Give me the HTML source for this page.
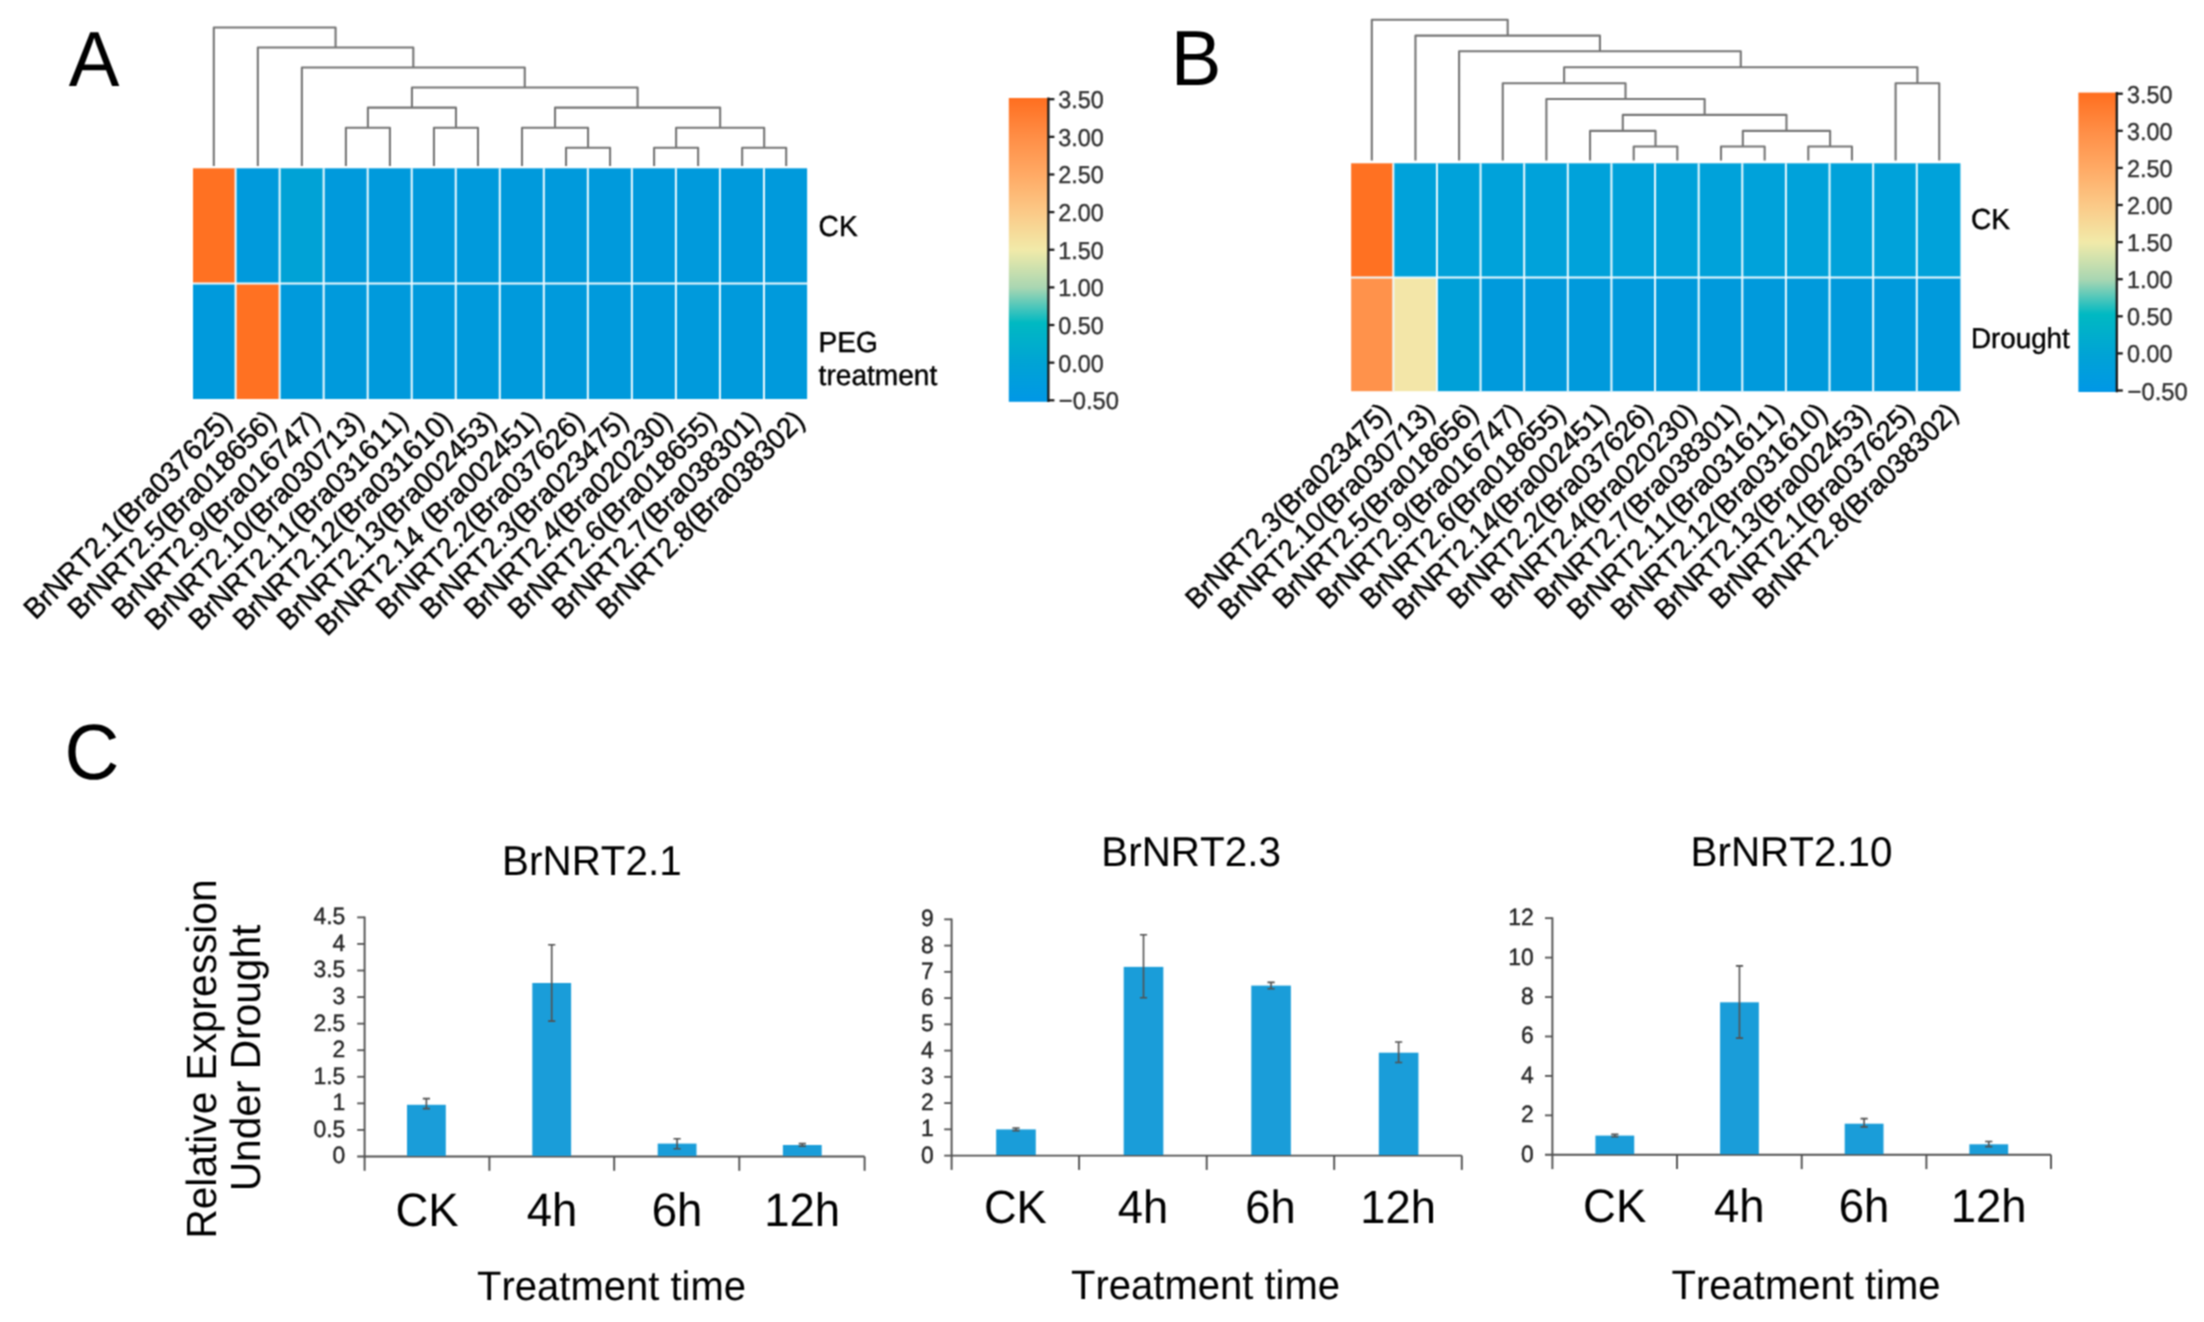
<!DOCTYPE html>
<html lang="en"><head><meta charset="utf-8"><title>BrNRT2 expression under drought</title>
<style>html,body{margin:0;padding:0;background:#fff}body{width:2204px;height:1322px;overflow:hidden}svg{display:block;font-family:"Liberation Sans", sans-serif;font-kerning:none;text-rendering:geometricPrecision}</style></head><body>
<svg width="2204" height="1322" viewBox="0 0 2204 1322">
<defs><linearGradient id="cb" x1="0" y1="0" x2="0" y2="1"><stop offset="0" stop-color="#ff6e1f"/><stop offset="0.125" stop-color="#ff8d45"/><stop offset="0.25" stop-color="#ffa964"/><stop offset="0.375" stop-color="#fbc987"/><stop offset="0.5" stop-color="#f1eaa9"/><stop offset="0.625" stop-color="#a8d6b2"/><stop offset="0.74" stop-color="#00b9c2"/><stop offset="0.875" stop-color="#00a3d5"/><stop offset="1" stop-color="#0097e6"/></linearGradient><filter id="soft" x="0" y="0" width="2204" height="1322" filterUnits="userSpaceOnUse" color-interpolation-filters="sRGB"><feConvolveMatrix order="3" kernelMatrix="1 2 1 2 4 2 1 2 1" divisor="16" edgeMode="none" preserveAlpha="false"/></filter></defs>
<rect x="0" y="0" width="2204" height="1322" fill="#fff"/>
<g filter="url(#soft)">
<text transform="translate(68.8 85.9) scale(1 1.03)" font-size="76" text-anchor="start" fill="#000">A</text>
<rect x="193.02" y="168.3" width="42.88" height="115.3" fill="#ff7122"/>
<rect x="235.6" y="168.3" width="44.33" height="115.3" fill="#009adc"/>
<rect x="279.63" y="168.3" width="44.33" height="115.3" fill="#00a2d6"/>
<rect x="323.66" y="168.3" width="44.33" height="115.3" fill="#009adc"/>
<rect x="367.69" y="168.3" width="44.33" height="115.3" fill="#009adc"/>
<rect x="411.72" y="168.3" width="44.33" height="115.3" fill="#009adc"/>
<rect x="455.75" y="168.3" width="44.33" height="115.3" fill="#009adc"/>
<rect x="499.79" y="168.3" width="44.33" height="115.3" fill="#009adc"/>
<rect x="543.82" y="168.3" width="44.33" height="115.3" fill="#009adc"/>
<rect x="587.85" y="168.3" width="44.33" height="115.3" fill="#009adc"/>
<rect x="631.88" y="168.3" width="44.33" height="115.3" fill="#009adc"/>
<rect x="675.91" y="168.3" width="44.33" height="115.3" fill="#009adc"/>
<rect x="719.94" y="168.3" width="44.33" height="115.3" fill="#009adc"/>
<rect x="763.97" y="168.3" width="43.13" height="115.3" fill="#009adc"/>
<rect x="193.02" y="283.6" width="42.88" height="115.4" fill="#009adc"/>
<rect x="235.6" y="283.6" width="44.33" height="115.4" fill="#ff7122"/>
<rect x="279.63" y="283.6" width="44.33" height="115.4" fill="#009adc"/>
<rect x="323.66" y="283.6" width="44.33" height="115.4" fill="#009adc"/>
<rect x="367.69" y="283.6" width="44.33" height="115.4" fill="#009adc"/>
<rect x="411.72" y="283.6" width="44.33" height="115.4" fill="#009adc"/>
<rect x="455.75" y="283.6" width="44.33" height="115.4" fill="#009adc"/>
<rect x="499.79" y="283.6" width="44.33" height="115.4" fill="#009adc"/>
<rect x="543.82" y="283.6" width="44.33" height="115.4" fill="#009adc"/>
<rect x="587.85" y="283.6" width="44.33" height="115.4" fill="#009adc"/>
<rect x="631.88" y="283.6" width="44.33" height="115.4" fill="#009adc"/>
<rect x="675.91" y="283.6" width="44.33" height="115.4" fill="#009adc"/>
<rect x="719.94" y="283.6" width="44.33" height="115.4" fill="#009adc"/>
<rect x="763.97" y="283.6" width="43.13" height="115.4" fill="#009adc"/>
<path d="M235.6 168.3V399M279.63 168.3V399M323.66 168.3V399M367.69 168.3V399M411.72 168.3V399M455.75 168.3V399M499.79 168.3V399M543.82 168.3V399M587.85 168.3V399M631.88 168.3V399M675.91 168.3V399M719.94 168.3V399M763.97 168.3V399M193.02 283.6H807.1" fill="none" stroke="#eefafe" stroke-width="2"/>
<path d="M345.89 166V127.8H389.92V166M433.95 166V127.8H477.98V166M367.9 127.8V107.6H455.97V127.8M566.04 166V147.8H610.07V166M522.01 166V127.8H588.05V147.8M654.1 166V147.8H698.13V166M742.16 166V147.8H786.19V166M676.12 147.8V127.8H764.18V147.8M555.03 127.8V107.6H720.14V127.8M411.94 107.6V87.5H637.59V107.6M301.86 166V67.5H524.76V87.5M257.83 166V47.5H413.31V67.5M213.8 166V27.5H335.57V47.5" fill="none" stroke="#757575" stroke-width="2.1" stroke-linejoin="round"/>
<text transform="translate(233.59 422.5) rotate(-45) scale(1 1.03)" font-size="28" text-anchor="end" fill="#000" stroke="#000" stroke-width="0.45">BrNRT2.1(Bra037625)</text>
<text transform="translate(277.62 422.5) rotate(-45) scale(1 1.03)" font-size="28" text-anchor="end" fill="#000" stroke="#000" stroke-width="0.45">BrNRT2.5(Bra018656)</text>
<text transform="translate(321.65 422.5) rotate(-45) scale(1 1.03)" font-size="28" text-anchor="end" fill="#000" stroke="#000" stroke-width="0.45">BrNRT2.9(Bra016747)</text>
<text transform="translate(365.68 422.5) rotate(-45) scale(1 1.03)" font-size="28" text-anchor="end" fill="#000" stroke="#000" stroke-width="0.45">BrNRT2.10(Bra030713)</text>
<text transform="translate(409.71 422.5) rotate(-45) scale(1 1.03)" font-size="28" text-anchor="end" fill="#000" stroke="#000" stroke-width="0.45">BrNRT2.11(Bra031611)</text>
<text transform="translate(453.74 422.5) rotate(-45) scale(1 1.03)" font-size="28" text-anchor="end" fill="#000" stroke="#000" stroke-width="0.45">BrNRT2.12(Bra031610)</text>
<text transform="translate(497.77 422.5) rotate(-45) scale(1 1.03)" font-size="28" text-anchor="end" fill="#000" stroke="#000" stroke-width="0.45">BrNRT2.13(Bra002453)</text>
<text transform="translate(541.8 422.5) rotate(-45) scale(1 1.03)" font-size="28" text-anchor="end" fill="#000" stroke="#000" stroke-width="0.45">BrNRT2.14 (Bra002451)</text>
<text transform="translate(585.83 422.5) rotate(-45) scale(1 1.03)" font-size="28" text-anchor="end" fill="#000" stroke="#000" stroke-width="0.45">BrNRT2.2(Bra037626)</text>
<text transform="translate(629.86 422.5) rotate(-45) scale(1 1.03)" font-size="28" text-anchor="end" fill="#000" stroke="#000" stroke-width="0.45">BrNRT2.3(Bra023475)</text>
<text transform="translate(673.89 422.5) rotate(-45) scale(1 1.03)" font-size="28" text-anchor="end" fill="#000" stroke="#000" stroke-width="0.45">BrNRT2.4(Bra020230)</text>
<text transform="translate(717.92 422.5) rotate(-45) scale(1 1.03)" font-size="28" text-anchor="end" fill="#000" stroke="#000" stroke-width="0.45">BrNRT2.6(Bra018655)</text>
<text transform="translate(761.95 422.5) rotate(-45) scale(1 1.03)" font-size="28" text-anchor="end" fill="#000" stroke="#000" stroke-width="0.45">BrNRT2.7(Bra038301)</text>
<text transform="translate(805.98 422.5) rotate(-45) scale(1 1.03)" font-size="28" text-anchor="end" fill="#000" stroke="#000" stroke-width="0.45">BrNRT2.8(Bra038302)</text>
<text transform="translate(818.6 235.7) scale(1 1.03)" font-size="28.1" text-anchor="start" fill="#000" stroke="#000" stroke-width="0.4">CK</text>
<text transform="translate(818.6 351.7) scale(1 1.03)" font-size="28.1" text-anchor="start" fill="#000" stroke="#000" stroke-width="0.4">PEG</text>
<text transform="translate(818.6 385) scale(1 1.03)" font-size="28.1" text-anchor="start" fill="#000" stroke="#000" stroke-width="0.4">treatment</text>
<rect x="1008.8" y="98" width="39.6" height="303.8" fill="url(#cb)"/>
<line x1="1048.4" y1="97.5" x2="1048.4" y2="402.1" stroke="#1a1a1a" stroke-width="2.3"/>
<line x1="1048.4" y1="99.2" x2="1054.4" y2="99.2" stroke="#1a1a1a" stroke-width="2.3"/>
<text transform="translate(1058.3 108.2) scale(1 1.03)" font-size="23.7" text-anchor="start" fill="#333" textLength="45.53" lengthAdjust="spacingAndGlyphs" stroke="#333" stroke-width="0.4">3.50</text>
<line x1="1048.4" y1="136.84" x2="1054.4" y2="136.84" stroke="#1a1a1a" stroke-width="2.3"/>
<text transform="translate(1058.3 145.84) scale(1 1.03)" font-size="23.7" text-anchor="start" fill="#333" textLength="45.53" lengthAdjust="spacingAndGlyphs" stroke="#333" stroke-width="0.4">3.00</text>
<line x1="1048.4" y1="174.48" x2="1054.4" y2="174.48" stroke="#1a1a1a" stroke-width="2.3"/>
<text transform="translate(1058.3 183.48) scale(1 1.03)" font-size="23.7" text-anchor="start" fill="#333" textLength="45.53" lengthAdjust="spacingAndGlyphs" stroke="#333" stroke-width="0.4">2.50</text>
<line x1="1048.4" y1="212.11" x2="1054.4" y2="212.11" stroke="#1a1a1a" stroke-width="2.3"/>
<text transform="translate(1058.3 221.11) scale(1 1.03)" font-size="23.7" text-anchor="start" fill="#333" textLength="45.53" lengthAdjust="spacingAndGlyphs" stroke="#333" stroke-width="0.4">2.00</text>
<line x1="1048.4" y1="249.75" x2="1054.4" y2="249.75" stroke="#1a1a1a" stroke-width="2.3"/>
<text transform="translate(1058.3 258.75) scale(1 1.03)" font-size="23.7" text-anchor="start" fill="#333" textLength="45.53" lengthAdjust="spacingAndGlyphs" stroke="#333" stroke-width="0.4">1.50</text>
<line x1="1048.4" y1="287.39" x2="1054.4" y2="287.39" stroke="#1a1a1a" stroke-width="2.3"/>
<text transform="translate(1058.3 296.39) scale(1 1.03)" font-size="23.7" text-anchor="start" fill="#333" textLength="45.53" lengthAdjust="spacingAndGlyphs" stroke="#333" stroke-width="0.4">1.00</text>
<line x1="1048.4" y1="325.03" x2="1054.4" y2="325.03" stroke="#1a1a1a" stroke-width="2.3"/>
<text transform="translate(1058.3 334.03) scale(1 1.03)" font-size="23.7" text-anchor="start" fill="#333" textLength="45.53" lengthAdjust="spacingAndGlyphs" stroke="#333" stroke-width="0.4">0.50</text>
<line x1="1048.4" y1="362.66" x2="1054.4" y2="362.66" stroke="#1a1a1a" stroke-width="2.3"/>
<text transform="translate(1058.3 371.66) scale(1 1.03)" font-size="23.7" text-anchor="start" fill="#333" textLength="45.53" lengthAdjust="spacingAndGlyphs" stroke="#333" stroke-width="0.4">0.00</text>
<line x1="1048.4" y1="400.3" x2="1054.4" y2="400.3" stroke="#1a1a1a" stroke-width="2.3"/>
<text transform="translate(1058.8 409.3) scale(1 1.03)" font-size="23.7" text-anchor="start" fill="#333" textLength="60.11" lengthAdjust="spacingAndGlyphs" stroke="#333" stroke-width="0.4">−0.50</text>
<text transform="translate(1170.7 85.4) scale(1 1.03)" font-size="76" text-anchor="start" fill="#000">B</text>
<rect x="1351.15" y="163.3" width="42.47" height="114.1" fill="#ff7122"/>
<rect x="1393.32" y="163.3" width="43.92" height="114.1" fill="#00a2da"/>
<rect x="1436.94" y="163.3" width="43.92" height="114.1" fill="#00a2da"/>
<rect x="1480.56" y="163.3" width="43.92" height="114.1" fill="#00a2da"/>
<rect x="1524.19" y="163.3" width="43.92" height="114.1" fill="#00a2da"/>
<rect x="1567.81" y="163.3" width="43.92" height="114.1" fill="#00a2da"/>
<rect x="1611.43" y="163.3" width="43.92" height="114.1" fill="#00a2da"/>
<rect x="1655.05" y="163.3" width="43.92" height="114.1" fill="#00a2da"/>
<rect x="1698.67" y="163.3" width="43.92" height="114.1" fill="#00a2da"/>
<rect x="1742.29" y="163.3" width="43.92" height="114.1" fill="#00a2da"/>
<rect x="1785.91" y="163.3" width="43.92" height="114.1" fill="#00a2da"/>
<rect x="1829.54" y="163.3" width="43.92" height="114.1" fill="#00a2da"/>
<rect x="1873.16" y="163.3" width="43.92" height="114.1" fill="#00a2da"/>
<rect x="1916.78" y="163.3" width="43.62" height="114.1" fill="#00a2da"/>
<rect x="1351.15" y="277.4" width="42.47" height="113.8" fill="#ff924b"/>
<rect x="1393.32" y="277.4" width="43.92" height="113.8" fill="#f3e6a8"/>
<rect x="1436.94" y="277.4" width="43.92" height="113.8" fill="#00a0d8"/>
<rect x="1480.56" y="277.4" width="43.92" height="113.8" fill="#009adc"/>
<rect x="1524.19" y="277.4" width="43.92" height="113.8" fill="#009adc"/>
<rect x="1567.81" y="277.4" width="43.92" height="113.8" fill="#009adc"/>
<rect x="1611.43" y="277.4" width="43.92" height="113.8" fill="#009adc"/>
<rect x="1655.05" y="277.4" width="43.92" height="113.8" fill="#009adc"/>
<rect x="1698.67" y="277.4" width="43.92" height="113.8" fill="#009adc"/>
<rect x="1742.29" y="277.4" width="43.92" height="113.8" fill="#009adc"/>
<rect x="1785.91" y="277.4" width="43.92" height="113.8" fill="#009adc"/>
<rect x="1829.54" y="277.4" width="43.92" height="113.8" fill="#009adc"/>
<rect x="1873.16" y="277.4" width="43.92" height="113.8" fill="#009adc"/>
<rect x="1916.78" y="277.4" width="43.62" height="113.8" fill="#009adc"/>
<path d="M1393.32 163.3V391.2M1436.94 163.3V391.2M1480.56 163.3V391.2M1524.19 163.3V391.2M1567.81 163.3V391.2M1611.43 163.3V391.2M1655.05 163.3V391.2M1698.67 163.3V391.2M1742.29 163.3V391.2M1785.91 163.3V391.2M1829.54 163.3V391.2M1873.16 163.3V391.2M1916.78 163.3V391.2M1351.15 277.4H1960.4" fill="none" stroke="#eefafe" stroke-width="2"/>
<path d="M1633.7 160.6V146.5H1677.35V160.6M1590.05 160.6V130.9H1655.52V146.5M1721 160.6V146.5H1764.65V160.6M1808.3 160.6V146.5H1851.95V160.6M1742.82 146.5V130.9H1830.12V146.5M1622.79 130.9V114.9H1786.47V130.9M1546.4 160.6V99H1704.63V114.9M1502.75 160.6V83.2H1625.52V99M1895.6 160.6V83.2H1939.25V160.6M1564.13 83.2V67.3H1917.42V83.2M1459.1 160.6V51.3H1740.78V67.3M1415.45 160.6V35.6H1599.94V51.3M1371.8 160.6V19.7H1507.69V35.6" fill="none" stroke="#757575" stroke-width="2.1" stroke-linejoin="round"/>
<text transform="translate(1392.61 414.7) rotate(-45) scale(1 1.03)" font-size="27.65" text-anchor="end" fill="#000" stroke="#000" stroke-width="0.45">BrNRT2.3(Bra023475)</text>
<text transform="translate(1436.23 414.7) rotate(-45) scale(1 1.03)" font-size="27.65" text-anchor="end" fill="#000" stroke="#000" stroke-width="0.45">BrNRT2.10(Bra030713)</text>
<text transform="translate(1479.85 414.7) rotate(-45) scale(1 1.03)" font-size="27.65" text-anchor="end" fill="#000" stroke="#000" stroke-width="0.45">BrNRT2.5(Bra018656)</text>
<text transform="translate(1523.47 414.7) rotate(-45) scale(1 1.03)" font-size="27.65" text-anchor="end" fill="#000" stroke="#000" stroke-width="0.45">BrNRT2.9(Bra016747)</text>
<text transform="translate(1567.1 414.7) rotate(-45) scale(1 1.03)" font-size="27.65" text-anchor="end" fill="#000" stroke="#000" stroke-width="0.45">BrNRT2.6(Bra018655)</text>
<text transform="translate(1610.72 414.7) rotate(-45) scale(1 1.03)" font-size="27.65" text-anchor="end" fill="#000" stroke="#000" stroke-width="0.45">BrNRT2.14(Bra002451)</text>
<text transform="translate(1654.34 414.7) rotate(-45) scale(1 1.03)" font-size="27.65" text-anchor="end" fill="#000" stroke="#000" stroke-width="0.45">BrNRT2.2(Bra037626)</text>
<text transform="translate(1697.96 414.7) rotate(-45) scale(1 1.03)" font-size="27.65" text-anchor="end" fill="#000" stroke="#000" stroke-width="0.45">BrNRT2.4(Bra020230)</text>
<text transform="translate(1741.58 414.7) rotate(-45) scale(1 1.03)" font-size="27.65" text-anchor="end" fill="#000" stroke="#000" stroke-width="0.45">BrNRT2.7(Bra038301)</text>
<text transform="translate(1785.2 414.7) rotate(-45) scale(1 1.03)" font-size="27.65" text-anchor="end" fill="#000" stroke="#000" stroke-width="0.45">BrNRT2.11(Bra031611)</text>
<text transform="translate(1828.83 414.7) rotate(-45) scale(1 1.03)" font-size="27.65" text-anchor="end" fill="#000" stroke="#000" stroke-width="0.45">BrNRT2.12(Bra031610)</text>
<text transform="translate(1872.45 414.7) rotate(-45) scale(1 1.03)" font-size="27.65" text-anchor="end" fill="#000" stroke="#000" stroke-width="0.45">BrNRT2.13(Bra002453)</text>
<text transform="translate(1916.07 414.7) rotate(-45) scale(1 1.03)" font-size="27.65" text-anchor="end" fill="#000" stroke="#000" stroke-width="0.45">BrNRT2.1(Bra037625)</text>
<text transform="translate(1959.69 414.7) rotate(-45) scale(1 1.03)" font-size="27.65" text-anchor="end" fill="#000" stroke="#000" stroke-width="0.45">BrNRT2.8(Bra038302)</text>
<text transform="translate(1970.9 229) scale(1 1.03)" font-size="28.1" text-anchor="start" fill="#000" stroke="#000" stroke-width="0.4">CK</text>
<text transform="translate(1970.9 348) scale(1 1.03)" font-size="27.8" text-anchor="start" fill="#000" stroke="#000" stroke-width="0.4">Drought</text>
<rect x="2078.4" y="92.6" width="38.4" height="299.4" fill="url(#cb)"/>
<line x1="2116.8" y1="92.1" x2="2116.8" y2="392.3" stroke="#1a1a1a" stroke-width="2.3"/>
<line x1="2116.8" y1="93.7" x2="2122.8" y2="93.7" stroke="#1a1a1a" stroke-width="2.3"/>
<text transform="translate(2127.1 102.7) scale(1 1.03)" font-size="23.7" text-anchor="start" fill="#333" textLength="45.53" lengthAdjust="spacingAndGlyphs" stroke="#333" stroke-width="0.4">3.50</text>
<line x1="2116.8" y1="130.8" x2="2122.8" y2="130.8" stroke="#1a1a1a" stroke-width="2.3"/>
<text transform="translate(2127.1 139.8) scale(1 1.03)" font-size="23.7" text-anchor="start" fill="#333" textLength="45.53" lengthAdjust="spacingAndGlyphs" stroke="#333" stroke-width="0.4">3.00</text>
<line x1="2116.8" y1="167.9" x2="2122.8" y2="167.9" stroke="#1a1a1a" stroke-width="2.3"/>
<text transform="translate(2127.1 176.9) scale(1 1.03)" font-size="23.7" text-anchor="start" fill="#333" textLength="45.53" lengthAdjust="spacingAndGlyphs" stroke="#333" stroke-width="0.4">2.50</text>
<line x1="2116.8" y1="205" x2="2122.8" y2="205" stroke="#1a1a1a" stroke-width="2.3"/>
<text transform="translate(2127.1 214) scale(1 1.03)" font-size="23.7" text-anchor="start" fill="#333" textLength="45.53" lengthAdjust="spacingAndGlyphs" stroke="#333" stroke-width="0.4">2.00</text>
<line x1="2116.8" y1="242.1" x2="2122.8" y2="242.1" stroke="#1a1a1a" stroke-width="2.3"/>
<text transform="translate(2127.1 251.1) scale(1 1.03)" font-size="23.7" text-anchor="start" fill="#333" textLength="45.53" lengthAdjust="spacingAndGlyphs" stroke="#333" stroke-width="0.4">1.50</text>
<line x1="2116.8" y1="279.2" x2="2122.8" y2="279.2" stroke="#1a1a1a" stroke-width="2.3"/>
<text transform="translate(2127.1 288.2) scale(1 1.03)" font-size="23.7" text-anchor="start" fill="#333" textLength="45.53" lengthAdjust="spacingAndGlyphs" stroke="#333" stroke-width="0.4">1.00</text>
<line x1="2116.8" y1="316.3" x2="2122.8" y2="316.3" stroke="#1a1a1a" stroke-width="2.3"/>
<text transform="translate(2127.1 325.3) scale(1 1.03)" font-size="23.7" text-anchor="start" fill="#333" textLength="45.53" lengthAdjust="spacingAndGlyphs" stroke="#333" stroke-width="0.4">0.50</text>
<line x1="2116.8" y1="353.4" x2="2122.8" y2="353.4" stroke="#1a1a1a" stroke-width="2.3"/>
<text transform="translate(2127.1 362.4) scale(1 1.03)" font-size="23.7" text-anchor="start" fill="#333" textLength="45.53" lengthAdjust="spacingAndGlyphs" stroke="#333" stroke-width="0.4">0.00</text>
<line x1="2116.8" y1="390.5" x2="2122.8" y2="390.5" stroke="#1a1a1a" stroke-width="2.3"/>
<text transform="translate(2127.6 399.5) scale(1 1.03)" font-size="23.7" text-anchor="start" fill="#333" textLength="60.11" lengthAdjust="spacingAndGlyphs" stroke="#333" stroke-width="0.4">−0.50</text>
<text transform="translate(64.4 778.8) scale(1 1.03)" font-size="76" text-anchor="start" fill="#000">C</text>
<text transform="translate(216 1059) rotate(-90) scale(1 1.035)" font-size="40.65" text-anchor="middle" fill="#000">Relative Expression</text>
<text transform="translate(259.8 1058) rotate(-90) scale(1 1.035)" font-size="40.65" text-anchor="middle" fill="#000">Under Drought</text>
<line x1="364.6" y1="916.57" x2="364.6" y2="1170.8" stroke="#505050" stroke-width="1.9"/>
<line x1="357.2" y1="1156.5" x2="864.6" y2="1156.5" stroke="#505050" stroke-width="1.9"/>
<line x1="489.4" y1="1156.5" x2="489.4" y2="1170.8" stroke="#505050" stroke-width="1.9"/>
<line x1="614.2" y1="1156.5" x2="614.2" y2="1170.8" stroke="#505050" stroke-width="1.9"/>
<line x1="739.3" y1="1156.5" x2="739.3" y2="1170.8" stroke="#505050" stroke-width="1.9"/>
<line x1="864.6" y1="1156.5" x2="864.6" y2="1170.8" stroke="#505050" stroke-width="1.9"/>
<text transform="translate(345.3 1163.4) scale(1 1.03)" font-size="22.9" text-anchor="end" fill="#262626" stroke="#262626" stroke-width="0.4">0</text>
<line x1="357.2" y1="1129.93" x2="364.6" y2="1129.93" stroke="#505050" stroke-width="1.8"/>
<text transform="translate(345.3 1136.83) scale(1 1.03)" font-size="22.9" text-anchor="end" fill="#262626" stroke="#262626" stroke-width="0.4">0.5</text>
<line x1="357.2" y1="1103.36" x2="364.6" y2="1103.36" stroke="#505050" stroke-width="1.8"/>
<text transform="translate(345.3 1110.26) scale(1 1.03)" font-size="22.9" text-anchor="end" fill="#262626" stroke="#262626" stroke-width="0.4">1</text>
<line x1="357.2" y1="1076.79" x2="364.6" y2="1076.79" stroke="#505050" stroke-width="1.8"/>
<text transform="translate(345.3 1083.69) scale(1 1.03)" font-size="22.9" text-anchor="end" fill="#262626" stroke="#262626" stroke-width="0.4">1.5</text>
<line x1="357.2" y1="1050.22" x2="364.6" y2="1050.22" stroke="#505050" stroke-width="1.8"/>
<text transform="translate(345.3 1057.12) scale(1 1.03)" font-size="22.9" text-anchor="end" fill="#262626" stroke="#262626" stroke-width="0.4">2</text>
<line x1="357.2" y1="1023.65" x2="364.6" y2="1023.65" stroke="#505050" stroke-width="1.8"/>
<text transform="translate(345.3 1030.55) scale(1 1.03)" font-size="22.9" text-anchor="end" fill="#262626" stroke="#262626" stroke-width="0.4">2.5</text>
<line x1="357.2" y1="997.08" x2="364.6" y2="997.08" stroke="#505050" stroke-width="1.8"/>
<text transform="translate(345.3 1003.98) scale(1 1.03)" font-size="22.9" text-anchor="end" fill="#262626" stroke="#262626" stroke-width="0.4">3</text>
<line x1="357.2" y1="970.51" x2="364.6" y2="970.51" stroke="#505050" stroke-width="1.8"/>
<text transform="translate(345.3 977.41) scale(1 1.03)" font-size="22.9" text-anchor="end" fill="#262626" stroke="#262626" stroke-width="0.4">3.5</text>
<line x1="357.2" y1="943.94" x2="364.6" y2="943.94" stroke="#505050" stroke-width="1.8"/>
<text transform="translate(345.3 950.84) scale(1 1.03)" font-size="22.9" text-anchor="end" fill="#262626" stroke="#262626" stroke-width="0.4">4</text>
<line x1="357.2" y1="917.37" x2="364.6" y2="917.37" stroke="#505050" stroke-width="1.8"/>
<text transform="translate(345.3 924.27) scale(1 1.03)" font-size="22.9" text-anchor="end" fill="#262626" stroke="#262626" stroke-width="0.4">4.5</text>
<rect x="407" y="1104.8" width="38.8" height="51.1" fill="#1a9dd9"/>
<path d="M426.4 1098.6V1108.6M422.8 1098.6H430M422.8 1108.6H430" fill="none" stroke="#525252" stroke-width="1.6"/>
<text transform="translate(427.1 1225.8) scale(1 1.03)" font-size="45.5" text-anchor="middle" fill="#000">CK</text>
<rect x="532.3" y="983" width="38.8" height="172.9" fill="#1a9dd9"/>
<path d="M551.7 944.8V1021.1M548.1 944.8H555.3M548.1 1021.1H555.3" fill="none" stroke="#525252" stroke-width="1.6"/>
<text transform="translate(552.1 1225.8) scale(1 1.03)" font-size="45.5" text-anchor="middle" fill="#000">4h</text>
<rect x="657.7" y="1143.6" width="38.8" height="12.3" fill="#1a9dd9"/>
<path d="M677.1 1138.8V1148.8M673.5 1138.8H680.7M673.5 1148.8H680.7" fill="none" stroke="#525252" stroke-width="1.6"/>
<text transform="translate(677.1 1225.8) scale(1 1.03)" font-size="45.5" text-anchor="middle" fill="#000">6h</text>
<rect x="782.9" y="1145" width="38.8" height="10.9" fill="#1a9dd9"/>
<path d="M802.3 1143.6V1146.3M798.7 1143.6H805.9M798.7 1146.3H805.9" fill="none" stroke="#525252" stroke-width="1.6"/>
<text transform="translate(802.1 1225.8) scale(1 1.03)" font-size="45.5" text-anchor="middle" fill="#000">12h</text>
<text transform="translate(502.1 875.2) scale(1 1.03)" font-size="40.5" text-anchor="start" fill="#000" textLength="179.58" lengthAdjust="spacingAndGlyphs">BrNRT2.1</text>
<text transform="translate(611.5 1300.4) scale(1 1.03)" font-size="40" text-anchor="middle" fill="#000">Treatment time</text>
<line x1="951.6" y1="918.55" x2="951.6" y2="1169.9" stroke="#505050" stroke-width="1.9"/>
<line x1="944.2" y1="1155.6" x2="1461.8" y2="1155.6" stroke="#505050" stroke-width="1.9"/>
<line x1="1079.1" y1="1155.6" x2="1079.1" y2="1169.9" stroke="#505050" stroke-width="1.9"/>
<line x1="1206.7" y1="1155.6" x2="1206.7" y2="1169.9" stroke="#505050" stroke-width="1.9"/>
<line x1="1334.2" y1="1155.6" x2="1334.2" y2="1169.9" stroke="#505050" stroke-width="1.9"/>
<line x1="1461.8" y1="1155.6" x2="1461.8" y2="1169.9" stroke="#505050" stroke-width="1.9"/>
<text transform="translate(933.7 1162.5) scale(1 1.03)" font-size="22.9" text-anchor="end" fill="#262626" stroke="#262626" stroke-width="0.4">0</text>
<line x1="944.2" y1="1129.35" x2="951.6" y2="1129.35" stroke="#505050" stroke-width="1.8"/>
<text transform="translate(933.7 1136.25) scale(1 1.03)" font-size="22.9" text-anchor="end" fill="#262626" stroke="#262626" stroke-width="0.4">1</text>
<line x1="944.2" y1="1103.1" x2="951.6" y2="1103.1" stroke="#505050" stroke-width="1.8"/>
<text transform="translate(933.7 1110) scale(1 1.03)" font-size="22.9" text-anchor="end" fill="#262626" stroke="#262626" stroke-width="0.4">2</text>
<line x1="944.2" y1="1076.85" x2="951.6" y2="1076.85" stroke="#505050" stroke-width="1.8"/>
<text transform="translate(933.7 1083.75) scale(1 1.03)" font-size="22.9" text-anchor="end" fill="#262626" stroke="#262626" stroke-width="0.4">3</text>
<line x1="944.2" y1="1050.6" x2="951.6" y2="1050.6" stroke="#505050" stroke-width="1.8"/>
<text transform="translate(933.7 1057.5) scale(1 1.03)" font-size="22.9" text-anchor="end" fill="#262626" stroke="#262626" stroke-width="0.4">4</text>
<line x1="944.2" y1="1024.35" x2="951.6" y2="1024.35" stroke="#505050" stroke-width="1.8"/>
<text transform="translate(933.7 1031.25) scale(1 1.03)" font-size="22.9" text-anchor="end" fill="#262626" stroke="#262626" stroke-width="0.4">5</text>
<line x1="944.2" y1="998.1" x2="951.6" y2="998.1" stroke="#505050" stroke-width="1.8"/>
<text transform="translate(933.7 1005) scale(1 1.03)" font-size="22.9" text-anchor="end" fill="#262626" stroke="#262626" stroke-width="0.4">6</text>
<line x1="944.2" y1="971.85" x2="951.6" y2="971.85" stroke="#505050" stroke-width="1.8"/>
<text transform="translate(933.7 978.75) scale(1 1.03)" font-size="22.9" text-anchor="end" fill="#262626" stroke="#262626" stroke-width="0.4">7</text>
<line x1="944.2" y1="945.6" x2="951.6" y2="945.6" stroke="#505050" stroke-width="1.8"/>
<text transform="translate(933.7 952.5) scale(1 1.03)" font-size="22.9" text-anchor="end" fill="#262626" stroke="#262626" stroke-width="0.4">8</text>
<line x1="944.2" y1="919.35" x2="951.6" y2="919.35" stroke="#505050" stroke-width="1.8"/>
<text transform="translate(933.7 926.25) scale(1 1.03)" font-size="22.9" text-anchor="end" fill="#262626" stroke="#262626" stroke-width="0.4">9</text>
<rect x="996.18" y="1129.4" width="39.6" height="25.6" fill="#1a9dd9"/>
<path d="M1015.98 1128V1130.6M1012.38 1128H1019.58M1012.38 1130.6H1019.58" fill="none" stroke="#525252" stroke-width="1.6"/>
<text transform="translate(1015.38 1222.8) scale(1 1.03)" font-size="45.3" text-anchor="middle" fill="#000">CK</text>
<rect x="1123.72" y="966.9" width="39.6" height="188.1" fill="#1a9dd9"/>
<path d="M1143.52 934.8V997.7M1139.92 934.8H1147.12M1139.92 997.7H1147.12" fill="none" stroke="#525252" stroke-width="1.6"/>
<text transform="translate(1142.92 1222.8) scale(1 1.03)" font-size="45.3" text-anchor="middle" fill="#000">4h</text>
<rect x="1251.27" y="985.6" width="39.6" height="169.4" fill="#1a9dd9"/>
<path d="M1271.07 982.4V988.7M1267.47 982.4H1274.67M1267.47 988.7H1274.67" fill="none" stroke="#525252" stroke-width="1.6"/>
<text transform="translate(1270.47 1222.8) scale(1 1.03)" font-size="45.3" text-anchor="middle" fill="#000">6h</text>
<rect x="1378.83" y="1052.7" width="39.6" height="102.3" fill="#1a9dd9"/>
<path d="M1398.62 1042V1062.5M1395.03 1042H1402.22M1395.03 1062.5H1402.22" fill="none" stroke="#525252" stroke-width="1.6"/>
<text transform="translate(1398.03 1222.8) scale(1 1.03)" font-size="45.3" text-anchor="middle" fill="#000">12h</text>
<text transform="translate(1101.3 866.3) scale(1 1.03)" font-size="40.5" text-anchor="start" fill="#000" textLength="179.58" lengthAdjust="spacingAndGlyphs">BrNRT2.3</text>
<text transform="translate(1205.5 1299.4) scale(1 1.03)" font-size="40" text-anchor="middle" fill="#000">Treatment time</text>
<line x1="1552.4" y1="917.36" x2="1552.4" y2="1169.1" stroke="#505050" stroke-width="1.9"/>
<line x1="1545" y1="1154.8" x2="2051" y2="1154.8" stroke="#505050" stroke-width="1.9"/>
<line x1="1677" y1="1154.8" x2="1677" y2="1169.1" stroke="#505050" stroke-width="1.9"/>
<line x1="1801.7" y1="1154.8" x2="1801.7" y2="1169.1" stroke="#505050" stroke-width="1.9"/>
<line x1="1926.4" y1="1154.8" x2="1926.4" y2="1169.1" stroke="#505050" stroke-width="1.9"/>
<line x1="2051" y1="1154.8" x2="2051" y2="1169.1" stroke="#505050" stroke-width="1.9"/>
<text transform="translate(1533.7 1161.7) scale(1 1.03)" font-size="22.9" text-anchor="end" fill="#262626" stroke="#262626" stroke-width="0.4">0</text>
<line x1="1545" y1="1115.36" x2="1552.4" y2="1115.36" stroke="#505050" stroke-width="1.8"/>
<text transform="translate(1533.7 1122.26) scale(1 1.03)" font-size="22.9" text-anchor="end" fill="#262626" stroke="#262626" stroke-width="0.4">2</text>
<line x1="1545" y1="1075.92" x2="1552.4" y2="1075.92" stroke="#505050" stroke-width="1.8"/>
<text transform="translate(1533.7 1082.82) scale(1 1.03)" font-size="22.9" text-anchor="end" fill="#262626" stroke="#262626" stroke-width="0.4">4</text>
<line x1="1545" y1="1036.48" x2="1552.4" y2="1036.48" stroke="#505050" stroke-width="1.8"/>
<text transform="translate(1533.7 1043.38) scale(1 1.03)" font-size="22.9" text-anchor="end" fill="#262626" stroke="#262626" stroke-width="0.4">6</text>
<line x1="1545" y1="997.04" x2="1552.4" y2="997.04" stroke="#505050" stroke-width="1.8"/>
<text transform="translate(1533.7 1003.94) scale(1 1.03)" font-size="22.9" text-anchor="end" fill="#262626" stroke="#262626" stroke-width="0.4">8</text>
<line x1="1545" y1="957.6" x2="1552.4" y2="957.6" stroke="#505050" stroke-width="1.8"/>
<text transform="translate(1533.7 964.5) scale(1 1.03)" font-size="22.9" text-anchor="end" fill="#262626" stroke="#262626" stroke-width="0.4">10</text>
<line x1="1545" y1="918.16" x2="1552.4" y2="918.16" stroke="#505050" stroke-width="1.8"/>
<text transform="translate(1533.7 925.06) scale(1 1.03)" font-size="22.9" text-anchor="end" fill="#262626" stroke="#262626" stroke-width="0.4">12</text>
<rect x="1595.42" y="1135.6" width="38.8" height="18.6" fill="#1a9dd9"/>
<path d="M1614.83 1134.4V1136.8M1611.23 1134.4H1618.42M1611.23 1136.8H1618.42" fill="none" stroke="#525252" stroke-width="1.6"/>
<text transform="translate(1614.73 1222.2) scale(1 1.03)" font-size="45.5" text-anchor="middle" fill="#000">CK</text>
<rect x="1720.07" y="1002.3" width="38.8" height="151.9" fill="#1a9dd9"/>
<path d="M1739.47 965.9V1038.1M1735.88 965.9H1743.07M1735.88 1038.1H1743.07" fill="none" stroke="#525252" stroke-width="1.6"/>
<text transform="translate(1739.38 1222.2) scale(1 1.03)" font-size="45.5" text-anchor="middle" fill="#000">4h</text>
<rect x="1844.72" y="1123.7" width="38.8" height="30.5" fill="#1a9dd9"/>
<path d="M1864.12 1118.6V1126.9M1860.53 1118.6H1867.72M1860.53 1126.9H1867.72" fill="none" stroke="#525252" stroke-width="1.6"/>
<text transform="translate(1864.03 1222.2) scale(1 1.03)" font-size="45.5" text-anchor="middle" fill="#000">6h</text>
<rect x="1969.37" y="1144.3" width="38.8" height="9.9" fill="#1a9dd9"/>
<path d="M1988.77 1141.5V1146.6M1985.17 1141.5H1992.37M1985.17 1146.6H1992.37" fill="none" stroke="#525252" stroke-width="1.6"/>
<text transform="translate(1988.67 1222.2) scale(1 1.03)" font-size="45.5" text-anchor="middle" fill="#000">12h</text>
<text transform="translate(1690.5 866.3) scale(1 1.03)" font-size="40.5" text-anchor="start" fill="#000" textLength="202.04" lengthAdjust="spacingAndGlyphs">BrNRT2.10</text>
<text transform="translate(1806 1298.6) scale(1 1.03)" font-size="40" text-anchor="middle" fill="#000">Treatment time</text>
</g>
</svg></body></html>
